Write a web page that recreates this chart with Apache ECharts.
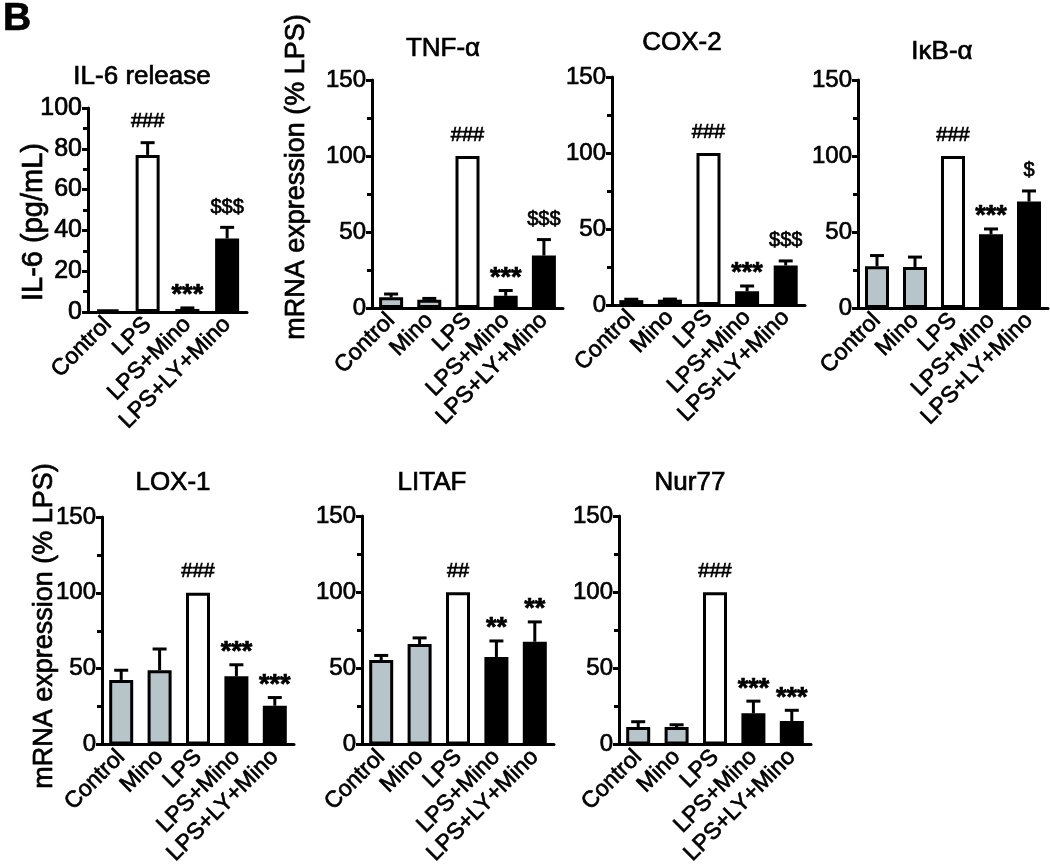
<!DOCTYPE html>
<html><head><meta charset="utf-8">
<script src="https://cdn.jsdelivr.net/npm/echarts@6/dist/echarts.min.js"></script>
<style>html,body{margin:0;padding:0;background:#fff}#c{width:1050px;height:868px}</style>
</head><body><div id="c"></div>
<script>
// ---------------- data ----------------
const il6Categories = ['Control', 'LPS', 'LPS+Mino', 'LPS+LY+Mino'];
const geneCategories = ['Control', 'Mino', 'LPS', 'LPS+Mino', 'LPS+LY+Mino'];
const il6Group = ['ctrl', 'lps', 'treat', 'treat'];
const geneGroup = ['ctrl', 'ctrl', 'lps', 'treat', 'treat'];

const il6Mean = [1.2, 77, 1.5, 36];
const il6Sem = [0, 6, 0.5, 5.5];
const il6Marks = ['', '###', '***', '$$$'];

const tnfMean = [7, 5.5, 100, 8, 34.5];
const tnfSem = [2.2, 0.8, 0, 3.5, 10.5];
const tnfMarks = ['', '', '###', '***', '$$$'];

const cox2Mean = [3.2, 3.5, 100, 9, 26];
const cox2Sem = [0.6, 0.4, 0, 3.5, 3];
const cox2Marks = ['', '', '###', '***', '$$$'];

const ikbMean = [27.5, 27, 100, 48.5, 70];
const ikbSem = [7, 6.5, 0, 3.5, 7];
const ikbMarks = ['', '', '###', '***', '$'];

const lox1Mean = [42.6, 49, 100, 45, 25.6];
const lox1Sem = [6.4, 14, 0, 7.6, 5.4];
const lox1Marks = ['', '', '###', '***', '***'];

const litafMean = [55.5, 66, 100, 57.5, 67.5];
const litafSem = [3, 4, 0, 10.5, 13];
const litafMarks = ['', '', '##', '**', '**'];

const nur77Mean = [11.5, 11.5, 100, 20.5, 15.5];
const nur77Sem = [3.5, 1.5, 0, 8, 7];
const nur77Marks = ['', '', '###', '***', '***'];

const panelTitles = ['IL-6 release', 'TNF-\u03b1', 'COX-2', 'I\u03baB-\u03b1', 'LOX-1', 'LITAF', 'Nur77'];
const il6AxisName = 'IL-6 (pg/mL)';
const mrnaAxisName = 'mRNA expression (% LPS)';
const il6Ticks = { max: 100, interval: 20 };
const geneTicks = { max: 150, interval: 50 };

// ---------------- layout / style ----------------
const FONT = '"Liberation Sans", Arial, Helvetica, sans-serif';
const fill = { ctrl: '#b7c4c9', lps: '#ffffff', treat: '#000000' };
const TB = 0.7; // text stroke to match the heavier print

const panels = [
  { cats: il6Categories, group: il6Group, mean: il6Mean, sem: il6Sem, marks: il6Marks, ticks: il6Ticks,
    grid: { left: 88, top: 108, width: 159, height: 204 }, tickFont: 25,
    title: [142, 77], name: il6AxisName, namePos: [34, 222], nameFont: 29 },
  { cats: geneCategories, group: geneGroup, mean: tnfMean, sem: tnfSem, marks: tnfMarks, ticks: geneTicks,
    grid: { left: 372, top: 80, width: 191, height: 228 }, tickFont: 24,
    title: [443, 49], name: mrnaAxisName, namePos: [297, 177], nameFont: 27 },
  { cats: geneCategories, group: geneGroup, mean: cox2Mean, sem: cox2Sem, marks: cox2Marks, ticks: geneTicks,
    grid: { left: 612, top: 77, width: 193, height: 228 }, tickFont: 24,
    title: [682, 43] },
  { cats: geneCategories, group: geneGroup, mean: ikbMean, sem: ikbSem, marks: ikbMarks, ticks: geneTicks,
    grid: { left: 858, top: 80, width: 190, height: 228 }, tickFont: 24,
    title: [942, 52] },
  { cats: geneCategories, group: geneGroup, mean: lox1Mean, sem: lox1Sem, marks: lox1Marks, ticks: geneTicks,
    grid: { left: 102, top: 517, width: 192, height: 229 }, tickFont: 24,
    title: [173, 483], name: mrnaAxisName, namePos: [45, 626], nameFont: 27 },
  { cats: geneCategories, group: geneGroup, mean: litafMean, sem: litafSem, marks: litafMarks, ticks: geneTicks,
    grid: { left: 362, top: 516, width: 192, height: 229 }, tickFont: 24,
    title: [432, 483] },
  { cats: geneCategories, group: geneGroup, mean: nur77Mean, sem: nur77Sem, marks: nur77Marks, ticks: geneTicks,
    grid: { left: 619, top: 516, width: 192, height: 230 }, tickFont: 24,
    title: [690, 483] }
];

const grids = [], xAxes = [], yAxes = [], series = [], graphics = [];
const blackLine = { color: '#000', width: 3 };

function txt(x, y, text, font, align, rotation) {
  return { type: 'text', x: x, y: y, rotation: rotation || 0,
    style: { text: text, font: font, fill: '#000', stroke: '#000', lineWidth: TB,
             textAlign: align || 'center', textVerticalAlign: 'middle',
             align: align || 'center', verticalAlign: 'middle' } };
}

panels.forEach((p, i) => {
  grids.push(Object.assign({ containLabel: false }, p.grid));
  xAxes.push({
    gridIndex: i, type: 'category', data: p.cats,
    axisLine: { show: true, lineStyle: blackLine },
    axisTick: { show: false },
    axisLabel: { rotate: 45, interval: 0, color: '#000', fontSize: 23, fontFamily: FONT, margin: 9,
                 textBorderColor: '#000', textBorderWidth: TB },
    splitLine: { show: false }
  });
  yAxes.push({
    gridIndex: i, type: 'value', min: 0, max: p.ticks.max, interval: p.ticks.interval,
    axisLine: { show: true, lineStyle: blackLine },
    axisTick: { show: true, length: 6, lineStyle: blackLine },
    minorTick: { show: true, splitNumber: 2, length: 5, lineStyle: blackLine },
    splitLine: { show: false },
    axisLabel: { color: '#000', fontSize: p.tickFont, fontFamily: FONT, margin: 6,
                 textBorderColor: '#000', textBorderWidth: TB }
  });
  series.push({
    type: 'bar', xAxisIndex: i, yAxisIndex: i, barWidth: 24, silent: true,
    itemStyle: { borderColor: '#000', borderWidth: 3 },
    data: p.mean.map((v, j) => ({ value: v, itemStyle: { color: fill[p.group[j]] } }))
  });
  const marks = p.marks;
  series.push({
    type: 'custom', xAxisIndex: i, yAxisIndex: i, silent: true, z: 5,
    data: p.mean.map((v, j) => [j, v, v + p.sem[j]]),
    renderItem: function (params, api) {
      const j = params.dataIndex;
      const m = api.value(1), t = api.value(2);
      const base = api.coord([j, m]);
      const top = api.coord([j, t]);
      const ch = [];
      if (t > m) {
        ch.push({ type: 'line', shape: { x1: base[0], y1: base[1], x2: base[0], y2: top[1] },
          style: { stroke: '#000', lineWidth: 3 } });
        ch.push({ type: 'line', shape: { x1: base[0] - 7, y1: top[1], x2: base[0] + 7, y2: top[1] },
          style: { stroke: '#000', lineWidth: 3 } });
      }
      const mk = marks[j];
      if (mk) {
        const star = mk[0] === '*';
        const dollar = mk[0] === '$';
        const font = star ? ('bold 27px ' + FONT) : (dollar ? ('20px ' + FONT) : ('20px ' + FONT));
        const off = star ? 12 : (dollar ? 20 : 21);
        ch.push(txt(base[0], top[1] - off, mk, font, 'center'));
      }
      return { type: 'group', children: ch };
    }
  });
  graphics.push(txt(p.title[0], p.title[1], panelTitles[i], '26px ' + FONT, 'center'));
  if (p.name) {
    graphics.push(txt(p.namePos[0], p.namePos[1], p.name, p.nameFont + 'px ' + FONT, 'center', Math.PI / 2));
  }
});

graphics.push(txt(3, 19, 'B', 'bold 39px ' + FONT, 'left'));

const chart = echarts.init(document.getElementById('c'), null, { renderer: 'canvas' });
chart.setOption({
  animation: false,
  backgroundColor: '#fff',
  grid: grids, xAxis: xAxes, yAxis: yAxes, series: series, graphic: graphics
});
</script>
</body></html>
